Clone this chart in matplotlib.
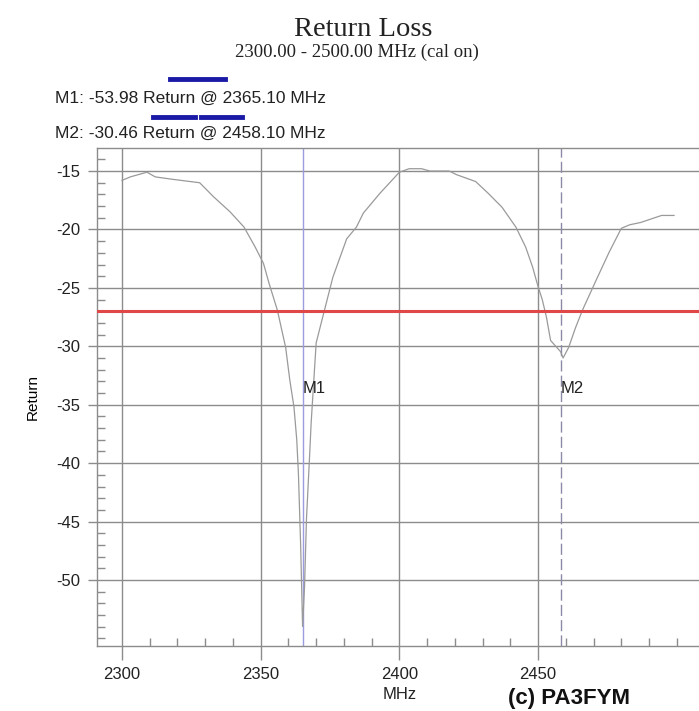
import matplotlib
matplotlib.use("Agg")
import matplotlib.pyplot as plt
from matplotlib.lines import Line2D
from matplotlib.ticker import MultipleLocator

plt.rcParams["axes.unicode_minus"] = False

# sweep data
freq_mhz = [2300, 2303, 2309, 2312, 2318, 2328, 2333, 2339, 2344, 2348,
            2351, 2353, 2356, 2359, 2360.5, 2362, 2363, 2363.6, 2364.4, 2365.1,
            2365.8, 2366.5, 2367.5, 2368.2, 2370, 2373, 2376, 2381, 2384.5, 2387,
            2393, 2400, 2403.5, 2408, 2411, 2418, 2420.5, 2427.5, 2432, 2437,
            2442, 2445.5, 2448, 2450, 2451.5, 2453, 2454.5, 2456, 2457.5, 2458.1,
            2459, 2461, 2463.5, 2466, 2471, 2475.5, 2480, 2483, 2487, 2492,
            2494.5, 2499]
return_db = [-15.8, -15.5, -15.1, -15.5, -15.7, -16.0, -17.2, -18.5, -19.8, -21.5,
             -22.9, -24.6, -26.9, -30.1, -32.9, -35.2, -38.0, -40.9, -47.0, -53.98,
             -50.6, -44.8, -40.0, -36.5, -29.7, -26.9, -24.1, -20.8, -19.8, -18.6,
             -16.9, -15.1, -14.8, -14.8, -15.0, -15.0, -15.3, -15.9, -16.9, -18.1,
             -19.8, -21.5, -23.2, -24.9, -26.0, -27.5, -29.5, -29.9, -30.3, -30.46,
             -31.0, -30.1, -28.4, -26.9, -24.3, -22.0, -19.9, -19.6, -19.4, -19.0,
             -18.8, -18.8]

markers = ["M1", "M2"]
marker_freq = [2365.10, 2458.10]
marker_val = [-53.98, -30.46]
limit_db = -27

x_ticks = [2300, 2350, 2400, 2450]
y_ticks = [-15, -20, -25, -30, -35, -40, -45, -50]

sans = "Liberation Sans"
serif = "Liberation Serif"
grid_col = "#8c8c8c"

fig = plt.figure(figsize=(6.99, 7.11), dpi=100)
ax = fig.add_axes([0.1388, 0.0914, 0.8612, 0.7004])

ax.plot(freq_mhz, return_db, color="#9a9a9a", linewidth=0.9, zorder=3)
ax.axhline(limit_db, color="#e04848", linewidth=2.2, zorder=4)

ax.axvline(marker_freq[0], color="#9c9ce0", linewidth=1.0, zorder=2)
ax.axvline(marker_freq[1], color="#8a8aa8", linewidth=1.0,
           linestyle=(0, (8, 3)), zorder=2)
for name, f in zip(markers, marker_freq):
    ax.text(f, -33.6, name, fontsize=12, family=sans, color="#222222",
            ha="left", va="center", zorder=5)

ax.set_xlim(2291, 2508)
ax.set_ylim(-55.65, -13.03)
ax.set_xticks(x_ticks)
ax.set_yticks(y_ticks)
ax.xaxis.set_minor_locator(MultipleLocator(10))
ax.yaxis.set_minor_locator(MultipleLocator(1))
ax.grid(True, which="major", color=grid_col, linewidth=1.0)
ax.set_axisbelow(True)

ax.tick_params(which="major", direction="out", length=6.5, width=1.0,
               color=grid_col, labelsize=12, pad=5.5)
ax.tick_params(axis="x", which="major", length=10, pad=5)
ax.tick_params(which="minor", direction="in", length=5.5, width=1.0,
               color=grid_col)
for lab in ax.get_xticklabels() + ax.get_yticklabels():
    lab.set_family(sans)
    lab.set_color("#222222")

for side in ["left", "bottom", "top"]:
    ax.spines[side].set_color(grid_col)
    ax.spines[side].set_linewidth(1.0)
ax.spines["right"].set_visible(False)

ax.set_ylabel("Return", fontsize=11, family=sans, labelpad=12)

# titles and marker readouts
fig.text(0.519, 0.958, "Return Loss", fontsize=20.5, family=serif,
         ha="center", va="center", color="#222222")
fig.text(0.511, 0.926, "2300.00 - 2500.00 MHz (cal on)", fontsize=13.5,
         family=serif, ha="center", va="center", color="#222222")
for i, (name, f, v) in enumerate(zip(markers, marker_freq, marker_val)):
    y = 0.861 - i * 0.049
    fig.text(0.079, y, f"{name}: {v:.2f} Return @ {f:.2f} MHz", fontsize=12.5,
             family=sans, ha="left", va="center", color="#222222")

# line-style keys above each readout
fig.add_artist(Line2D([0.243, 0.322], [0.889, 0.889], color="#1a1aa6",
                      linewidth=3.5, transform=fig.transFigure))
fig.add_artist(Line2D([0.219, 0.279], [0.836, 0.836], color="#1a1aa6",
                      linewidth=3.5, transform=fig.transFigure))
fig.add_artist(Line2D([0.287, 0.346], [0.836, 0.836], color="#1a1aa6",
                      linewidth=3.5, transform=fig.transFigure))

fig.text(0.572, 0.023, "MHz", fontsize=12, family=sans, ha="center",
         va="center", color="#222222")
fig.text(0.814, 0.017, "(c) PA3FYM", fontsize=16, family=sans,
         fontweight="bold", ha="center", va="center", color="#111111")

fig.savefig("out.png", dpi=100)
